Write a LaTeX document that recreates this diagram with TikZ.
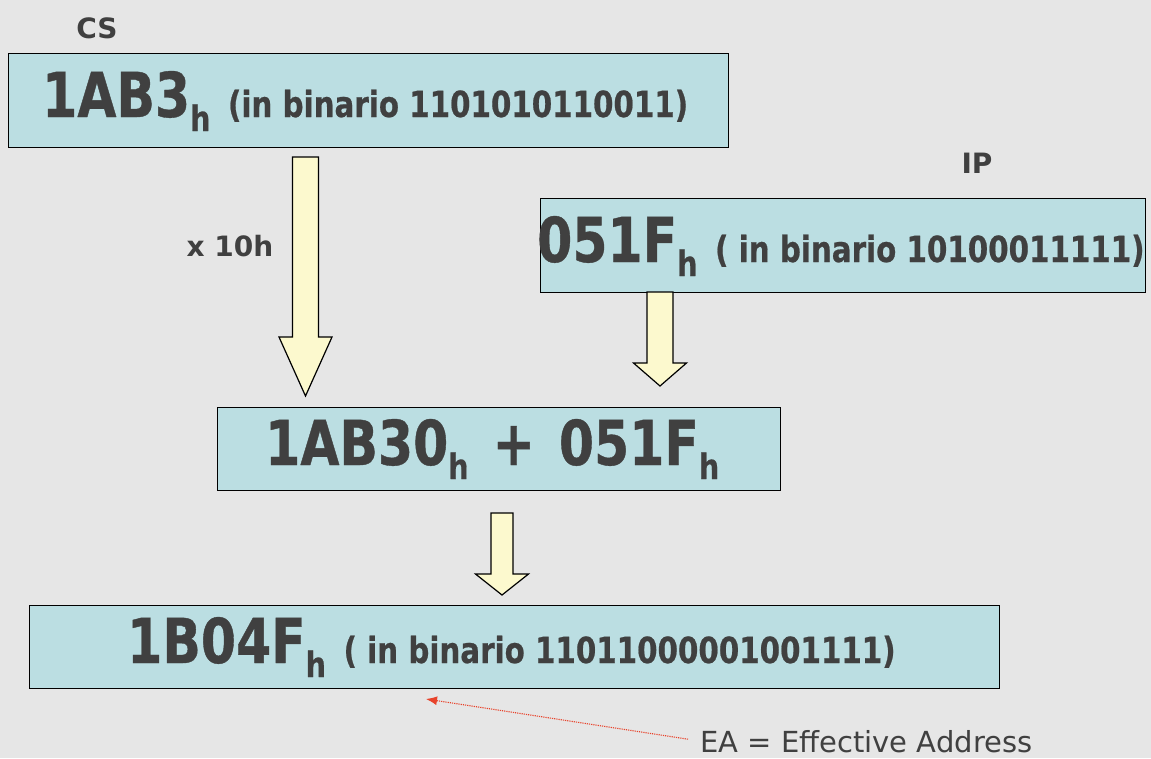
\documentclass[tikz,border=0pt]{standalone}
\usepackage{fontspec}
\setmainfont{DejaVu Sans}
\newfontfamily\narrowfont[FakeStretch=0.815, BoldFeatures={FakeBold=0.6}]{DejaVu Sans}
\usetikzlibrary{arrows.meta}

\definecolor{slidebg}{HTML}{E6E6E6}
\definecolor{boxblue}{HTML}{BBDEE2}
\definecolor{arrowyellow}{HTML}{FCF9CE}
\definecolor{inkgray}{HTML}{404040}
\definecolor{eared}{HTML}{E8432B}

\tikzset{
  regbox/.style={draw=black, line width=1.3pt, fill=boxblue, anchor=north west, inner sep=0pt},
  bigtxt/.style={anchor=base west, inner sep=0pt, text=inkgray, font=\narrowfont\bfseries\fontsize{62}{62}\selectfont},
  fatarrow/.style={draw=black, line width=1.2pt, fill=arrowyellow, line join=miter},
  tag/.style={inner sep=0pt, text=inkgray, font=\bfseries\fontsize{28}{28}\selectfont},
  eaarrow/.style={draw=eared, line width=1.1pt, dash pattern=on 1.2pt off 1pt, -{Latex[length=11pt,width=9pt]}}
}
\newcommand{\hsub}{\raisebox{-14pt}{\fontsize{35}{35}\selectfont h}}
\newcommand{\bin}[1]{{\fontsize{36}{36}\selectfont #1}}
\newcommand{\downblock}[5]{% x centre, top, neck, tip, half shaft
  \draw[fatarrow] (#1-#5,#2) -- (#1+#5,#2) -- (#1+#5,#3) -- (#1+26.5,#3) -- (#1,#4)
    -- (#1-26.5,#3) -- (#1-#5,#3) -- cycle;}

\begin{document}
\begin{tikzpicture}[x=1pt, y=-1pt]
  \fill[slidebg] (0,0) rectangle (1151,758);
  \useasboundingbox (0,0) rectangle (1151,758);

  \node[tag] (cslabel) at (97,28) {CS};
  \node[regbox, minimum width=720pt, minimum height=94pt] (cs) at (8,53) {};
  \node[bigtxt] (cstext) at (42,117) {1AB3\hsub\ \bin{(in binario 1101010110011)}};

  \node[tag] (iplabel) at (977,163) {IP};
  \node[regbox, minimum width=605pt, minimum height=94pt] (ip) at (540,198) {};
  \node[bigtxt] (iptext) at (537,262) {051F\hsub\ \bin{( in binario 10100011111)}};

  \node[tag] (shift) at (230,246) {x 10h};

  \node[regbox, minimum width=563pt, minimum height=83pt] (sum) at (217,407) {};
  \node[bigtxt] (sumtext) at (265,465) {1AB30\hsub\hspace{24pt}+\hspace{24pt}051F\hsub};

  \node[regbox, minimum width=970pt, minimum height=83pt] (ea) at (29,605) {};
  \node[bigtxt] (eatext) at (127,663) {1B04F\hsub\ \bin{( in binario 11011000001001111)}};

  \downblock{305.5}{157}{337}{396}{13}
  \downblock{660}{292}{363}{386}{13}
  \downblock{502}{513}{574}{595}{11}

  \node[anchor=base west, inner sep=0pt, text=inkgray, font=\fontsize{29}{29}\selectfont] (ealabel) at (700,752) {EA = Effective Address};
  \coordinate (eatip) at (426,699);
  \draw[eaarrow] ([xshift=-12pt,yshift=2pt]ealabel.west) -- (eatip);
\end{tikzpicture}
\end{document}
